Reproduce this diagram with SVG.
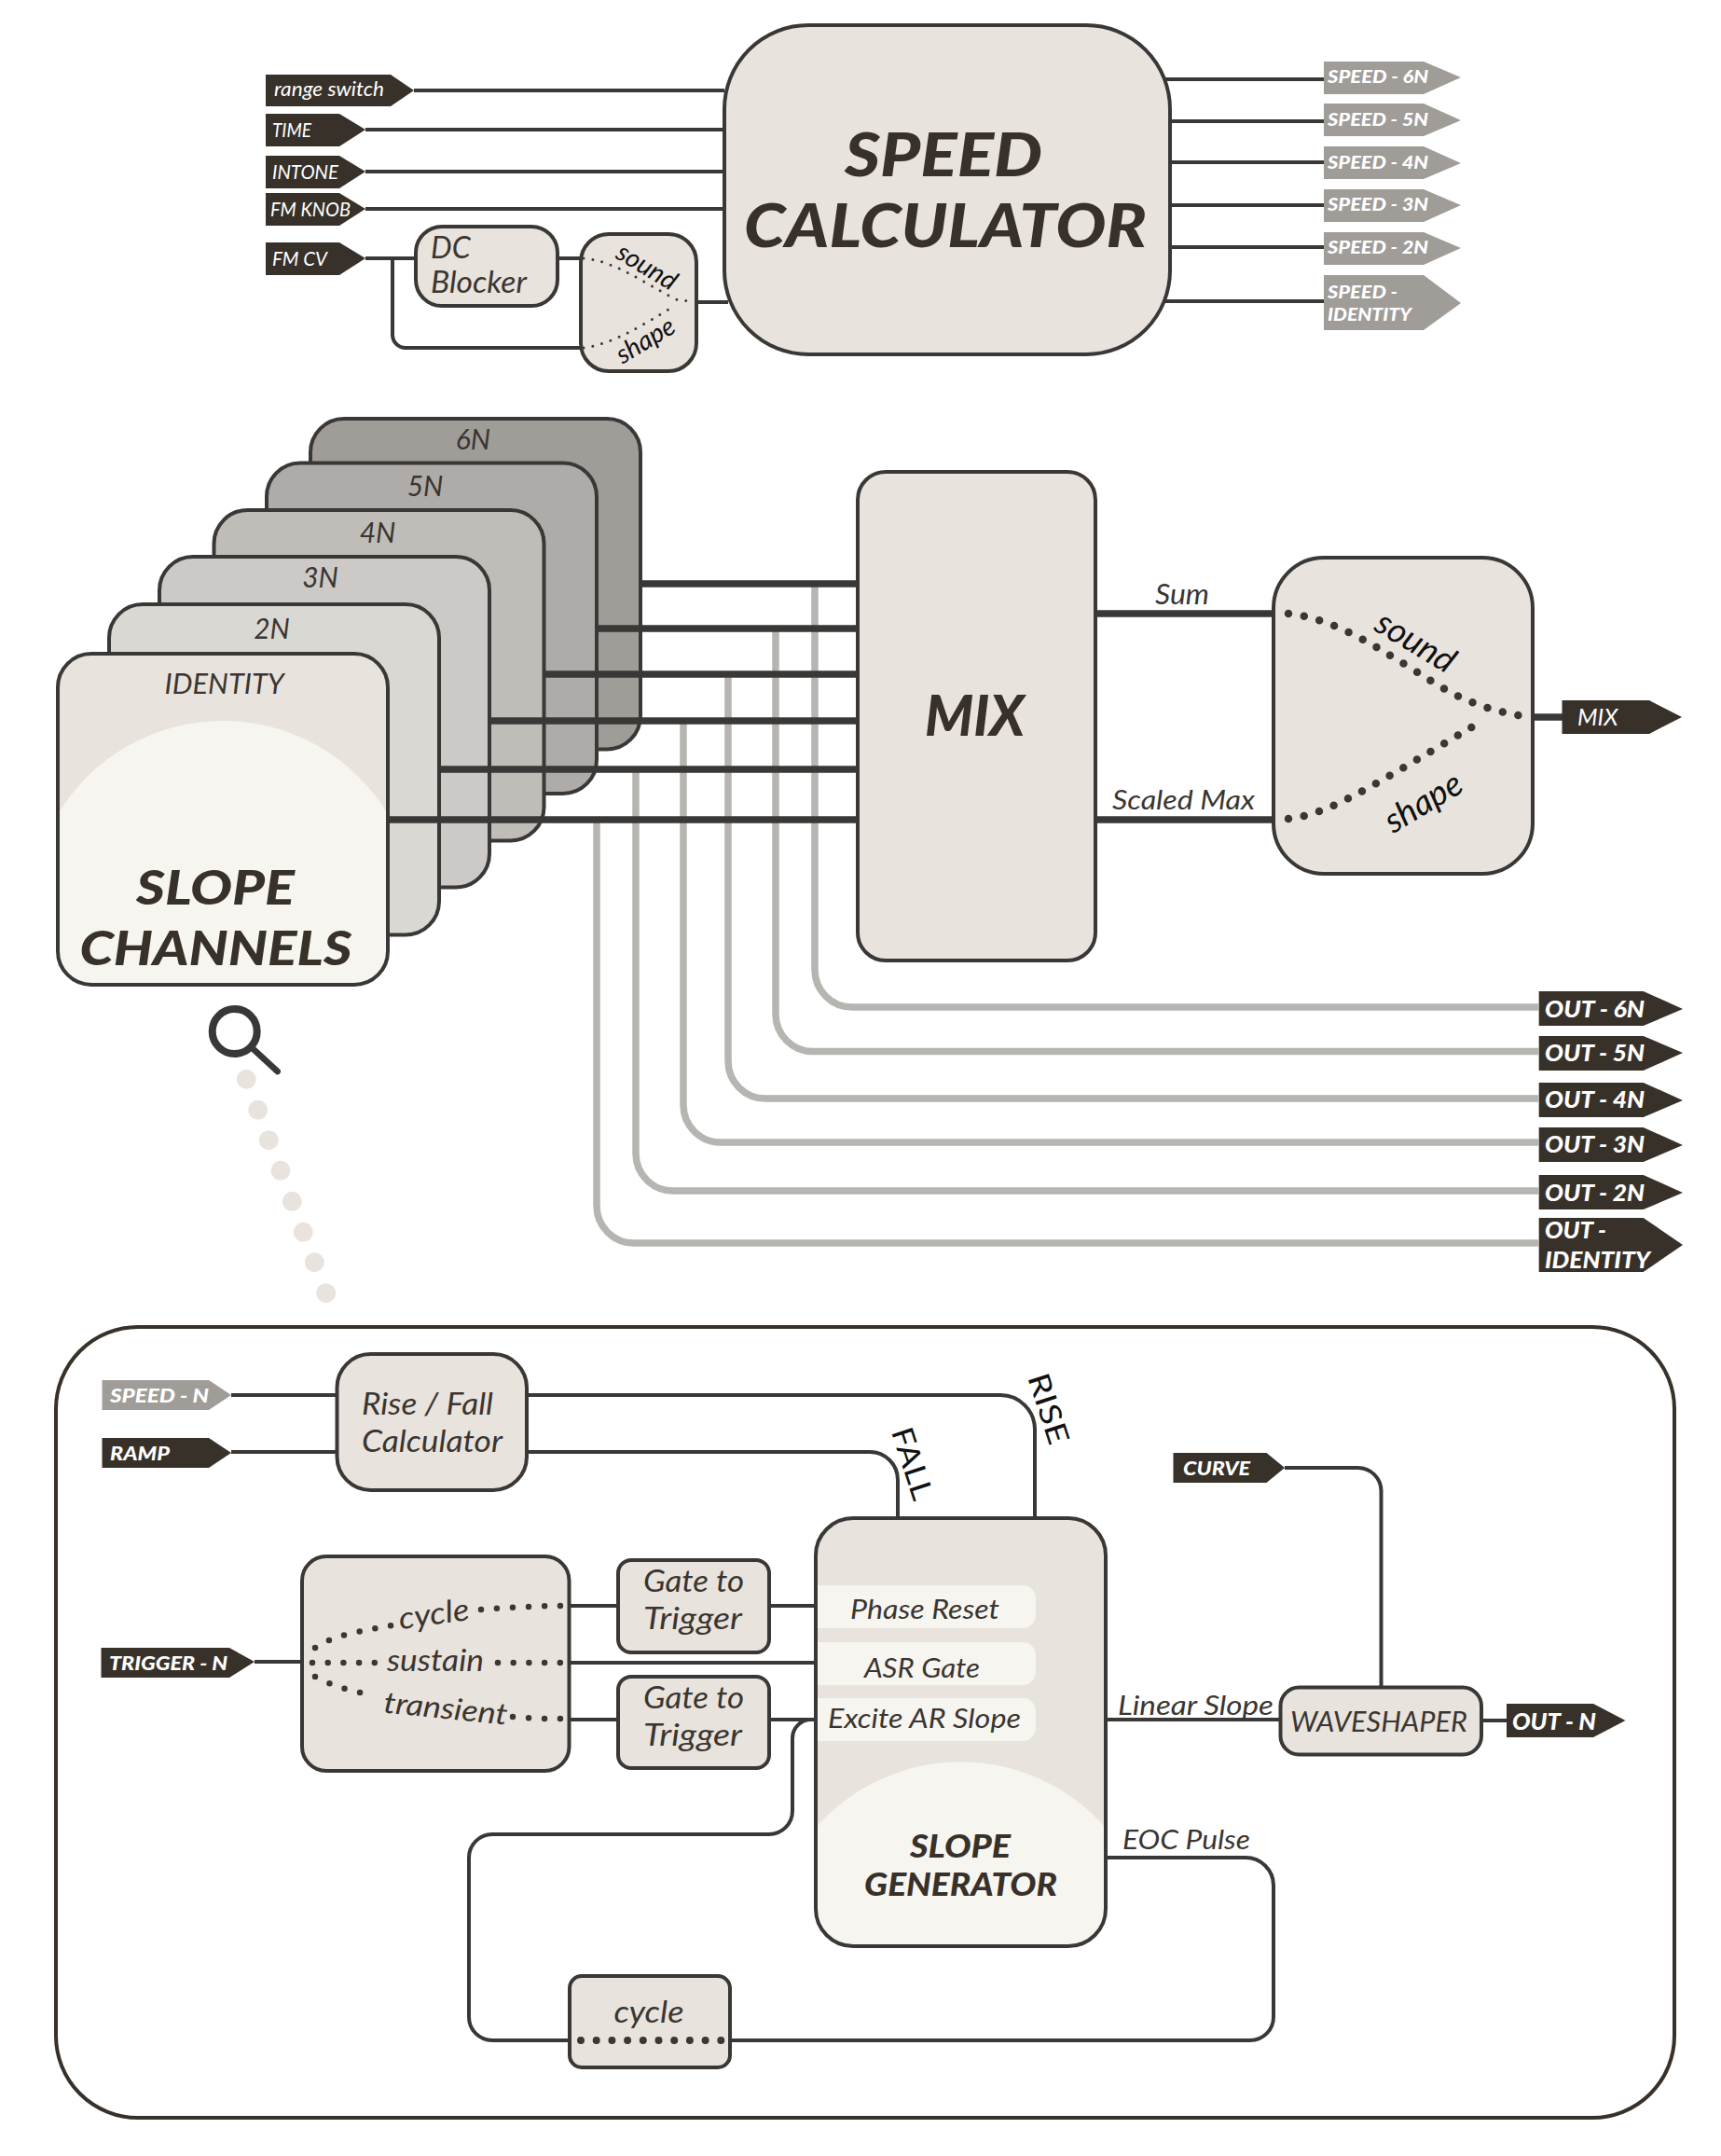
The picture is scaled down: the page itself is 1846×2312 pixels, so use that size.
<svg xmlns="http://www.w3.org/2000/svg" width="1846" height="2312" viewBox="0 0 1846 2312">
<style>
text{font-family:"Lato","Liberation Sans",sans-serif;font-style:italic;fill:#3a3530}
.box{fill:#e9e3dd;stroke:#3a3836;stroke-width:4}
.ch{stroke:#3a3836;stroke-width:4}
.td{fill:#38312a}.tg{fill:#a09c98}
.tt{fill:#fff;font-weight:900}
.tn{fill:#fff;font-weight:400}
.h{font-weight:900;fill:#38312a}
.c{fill:none;stroke:#3a3836;stroke-width:4}
.k{fill:none;stroke:#3a3836;stroke-width:7.5}
.g{fill:none;stroke:#b6b5b2;stroke-width:7.5}
.d{fill:none;stroke:#3a3836;stroke-linecap:round}
.pill{fill:#f7f5f0}
.lt{fill:#f7f5f0}
.m{text-anchor:middle}
</style>
<g id="speed-calculator">
<rect class="box" x="777" y="27" width="478" height="353" rx="90" ry="90"/>
<text class="h" x="906" y="189" font-size="64" textLength="212" lengthAdjust="spacingAndGlyphs">SPEED</text>
<text class="h" x="798" y="265" font-size="64" textLength="432" lengthAdjust="spacingAndGlyphs">CALCULATOR</text>
</g>
<g id="in-range"><polygon class="td" points="285,80 419,80 444,97 419,114 285,114"/><text class="tn" x="294" y="103" font-size="21" textLength="118" lengthAdjust="spacingAndGlyphs">range switch</text></g>
<g id="in-time"><polygon class="td" points="285,122 364,122 392,139 364,157 285,157"/><text class="tn" x="292" y="147" font-size="21" textLength="42" lengthAdjust="spacingAndGlyphs">TIME</text></g>
<g id="in-intone"><polygon class="td" points="285,167 364,167 392,184 364,202 285,202"/><text class="tn" x="292" y="192" font-size="21" textLength="71" lengthAdjust="spacingAndGlyphs">INTONE</text></g>
<g id="in-fmknob"><polygon class="td" points="285,207 364,207 392,224 364,242 285,242"/><text class="tn" x="290" y="232" font-size="21" textLength="86" lengthAdjust="spacingAndGlyphs">FM KNOB</text></g>
<g id="in-fmcv"><polygon class="td" points="285,260 364,260 392,277 364,295 285,295"/><text class="tn" x="292" y="285" font-size="21" textLength="59" lengthAdjust="spacingAndGlyphs">FM CV</text></g>
<g id="dc-blocker">
<rect class="box" x="446" y="243" width="152" height="85" rx="28"/>
<text x="462" y="277" font-size="32">DC</text>
<text x="462" y="314" font-size="32" textLength="103" lengthAdjust="spacingAndGlyphs">Blocker</text>
</g>
<g id="fm-mix">
<rect class="box" x="623" y="251" width="124" height="147" rx="30"/>
<path class="d" stroke-width="3" stroke-dasharray="0 10" d="M626,277 C660,280 690,303 725,321 L745,324"/>
<path class="d" stroke-width="3" stroke-dasharray="0 10" d="M626,373 C660,368 690,348 725,327"/>
<text class="m" transform="translate(689,294) rotate(31)" font-size="28" style="fill:#111">sound</text>
<text class="m" transform="translate(697,373) rotate(-31)" font-size="28" style="fill:#111">shape</text>
</g>
<g id="out-speed-6n"><polygon class="tg" points="1420,66 1527,66 1567,83 1527,101 1420,101"/><text class="tt" x="1424" y="89" font-size="19" textLength="108" lengthAdjust="spacingAndGlyphs">SPEED - 6N</text></g>
<g id="out-speed-5n"><polygon class="tg" points="1420,111 1527,111 1567,129 1527,146 1420,146"/><text class="tt" x="1424" y="135" font-size="19" textLength="108" lengthAdjust="spacingAndGlyphs">SPEED - 5N</text></g>
<g id="out-speed-4n"><polygon class="tg" points="1420,157 1527,157 1567,175 1527,192 1420,192"/><text class="tt" x="1424" y="181" font-size="19" textLength="108" lengthAdjust="spacingAndGlyphs">SPEED - 4N</text></g>
<g id="out-speed-3n"><polygon class="tg" points="1420,203 1527,203 1567,220 1527,238 1420,238"/><text class="tt" x="1424" y="226" font-size="19" textLength="108" lengthAdjust="spacingAndGlyphs">SPEED - 3N</text></g>
<g id="out-speed-2n"><polygon class="tg" points="1420,249 1527,249 1567,266 1527,284 1420,284"/><text class="tt" x="1424" y="272" font-size="19" textLength="108" lengthAdjust="spacingAndGlyphs">SPEED - 2N</text></g>
<g id="out-speed-id"><polygon class="tg" points="1420,295 1527,295 1567,325 1527,354 1420,354"/><text class="tt" x="1424" y="320" font-size="19" textLength="75" lengthAdjust="spacingAndGlyphs">SPEED -</text><text class="tt" x="1424" y="344" font-size="19" textLength="90" lengthAdjust="spacingAndGlyphs">IDENTITY</text></g>

<g id="channel-6n"><rect class="ch" x="333" y="449" width="354" height="354.500" rx="36" fill="#a09c98"/><text class="m" x="507.500" y="482" font-size="30">6N</text></g>
<g id="channel-5n"><rect class="ch" x="286" y="496.500" width="354" height="354.500" rx="36" fill="#afaba8"/><text class="m" x="456" y="532" font-size="30">5N</text></g>
<g id="channel-4n"><rect class="ch" x="229.500" y="547" width="354" height="354.500" rx="36" fill="#c0bdb9"/><text class="m" x="405" y="582" font-size="30">4N</text></g>
<g id="channel-3n"><rect class="ch" x="171" y="597" width="354" height="354.500" rx="36" fill="#ccc9c6"/><text class="m" x="343.500" y="630" font-size="30">3N</text></g>
<g id="channel-2n"><rect class="ch" x="117" y="648" width="354" height="354.500" rx="36" fill="#dad8d2"/><text class="m" x="291.500" y="685" font-size="30">2N</text></g>
<g id="channel-identity">
<rect x="62" y="701" width="354" height="355" rx="36" fill="#e9e3dd"/>
<path class="lt" d="M62,873 A206.600,206.600 0 0 1 416,873 L416,1020 A36,36 0 0 1 380,1056 L98,1056 A36,36 0 0 1 62,1020 Z"/>
<rect x="62" y="701" width="354" height="355" rx="36" fill="none" stroke="#3a3836" stroke-width="4"/>
<text x="176.600" y="744" font-size="30" textLength="128" lengthAdjust="spacingAndGlyphs">IDENTITY</text>
<text class="h" x="146" y="970" font-size="52" textLength="170" lengthAdjust="spacingAndGlyphs">SLOPE</text>
<text class="h" x="85.500" y="1035" font-size="52" textLength="292" lengthAdjust="spacingAndGlyphs">CHANNELS</text>
</g>
<g id="mix">
<rect class="box" x="920" y="506" width="255" height="524" rx="30"/>
<text class="h" x="992" y="789" font-size="60" textLength="107" lengthAdjust="spacingAndGlyphs">MIX</text>
</g>
<g id="mix-crossfade">
<rect class="box" x="1366" y="598" width="278" height="339" rx="54"/>
<path class="d" stroke-width="8.500" stroke-dasharray="0 17" d="M1382,658 C1425,663 1460,683 1519,720 C1550,740 1580,760 1640,769"/>
<path class="d" stroke-width="8.500" stroke-dasharray="0 17" d="M1382,878 C1425,873 1460,850 1590,773"/>
<text class="m" transform="translate(1512,699) rotate(31)" font-size="37" style="fill:#111">sound</text>
<text class="m" transform="translate(1533,871) rotate(-31)" font-size="37" style="fill:#111">shape</text>
</g>
<g id="out-mix"><polygon class="td" points="1675.500,751 1769,751 1804,769 1769,787 1675.500,787"/><text class="tn" x="1692" y="778" font-size="25">MIX</text></g>
<g id="out-6n"><polygon class="td" points="1650.700,1063 1762.700,1063 1805,1082 1762.700,1100 1650.700,1100"/><text class="tt" x="1657" y="1091" font-size="24" textLength="107" lengthAdjust="spacingAndGlyphs">OUT - 6N</text></g>
<g id="out-5n"><polygon class="td" points="1650.700,1111 1762.700,1111 1805,1129 1762.700,1148 1650.700,1148"/><text class="tt" x="1657" y="1138" font-size="24" textLength="107" lengthAdjust="spacingAndGlyphs">OUT - 5N</text></g>
<g id="out-4n"><polygon class="td" points="1650.700,1161 1762.700,1161 1805,1180 1762.700,1198 1650.700,1198"/><text class="tt" x="1657" y="1188" font-size="24" textLength="107" lengthAdjust="spacingAndGlyphs">OUT - 4N</text></g>
<g id="out-3n"><polygon class="td" points="1650.700,1209 1762.700,1209 1805,1228 1762.700,1246 1650.700,1246"/><text class="tt" x="1657" y="1236" font-size="24" textLength="107" lengthAdjust="spacingAndGlyphs">OUT - 3N</text></g>
<g id="out-2n"><polygon class="td" points="1650.700,1260 1762.700,1260 1805,1279 1762.700,1297 1650.700,1297"/><text class="tt" x="1657" y="1288" font-size="24" textLength="107" lengthAdjust="spacingAndGlyphs">OUT - 2N</text></g>
<g id="out-id"><polygon class="td" points="1650.700,1306 1762.700,1306 1805,1335 1762.700,1364 1650.700,1364"/><text class="tt" x="1657" y="1328" font-size="24" textLength="66" lengthAdjust="spacingAndGlyphs">OUT -</text><text class="tt" x="1657" y="1360" font-size="24" textLength="113" lengthAdjust="spacingAndGlyphs">IDENTITY</text></g>

<g id="magnifier">
<circle cx="251.700" cy="1106" r="24" fill="none" stroke="#3a3836" stroke-width="8"/>
<line x1="271.700" y1="1125" x2="297.700" y2="1149" stroke="#3a3836" stroke-width="6.500" stroke-linecap="round"/>
<g fill="#e9e3dd">
<circle cx="264.300" cy="1157.300" r="10.500"/><circle cx="276.700" cy="1190.300" r="10.500"/><circle cx="288.300" cy="1222.700" r="10.500"/><circle cx="301" cy="1255.300" r="10.500"/><circle cx="313.300" cy="1288.300" r="10.500"/><circle cx="325.300" cy="1321.300" r="10.500"/><circle cx="337.300" cy="1353.700" r="10.500"/><circle cx="349.700" cy="1386.700" r="10.500"/>
</g>
</g>

<rect id="detail-panel" x="60" y="1423" width="1736" height="848" rx="88" fill="#fff" stroke="#38312a" stroke-width="4"/>
<g id="in-speed-n"><polygon class="tg" points="109.500,1480 224,1480 248,1496 224,1512 109.500,1512"/><text class="tt" x="118" y="1504" font-size="21" textLength="106" lengthAdjust="spacingAndGlyphs">SPEED - N</text></g>
<g id="in-ramp"><polygon class="td" points="109.500,1542 224,1542 248,1558 224,1574 109.500,1574"/><text class="tt" x="118" y="1566" font-size="21" textLength="64" lengthAdjust="spacingAndGlyphs">RAMP</text></g>
<g id="in-trigger"><polygon class="td" points="108.500,1767 246,1767 273,1782 246,1799 108.500,1799"/><text class="tt" x="117" y="1790.500" font-size="21" textLength="127" lengthAdjust="spacingAndGlyphs">TRIGGER - N</text></g>
<g id="rise-fall">
<rect class="box" x="361.500" y="1452" width="203.500" height="146" rx="36"/>
<text x="388" y="1517" font-size="32" textLength="141" lengthAdjust="spacingAndGlyphs">Rise / Fall</text>
<text x="388" y="1557" font-size="32" textLength="151" lengthAdjust="spacingAndGlyphs">Calculator</text>
</g>
<g id="mode-switch">
<rect class="box" x="324" y="1669" width="286.500" height="230" rx="26"/>
<path class="d" stroke-width="6.500" stroke-dasharray="0 17" d="M338,1767 C360,1752 395,1748 420,1743"/>
<path class="d" stroke-width="6.500" stroke-dasharray="0 17" d="M516,1726 C545,1724 575,1722 603,1722"/>
<path class="d" stroke-width="6.500" stroke-dasharray="0 16.700" d="M335,1783 L402,1783"/>
<path class="d" stroke-width="6.500" stroke-dasharray="0 16.700" d="M534,1783 L601,1783"/>
<path class="d" stroke-width="6.500" stroke-dasharray="0 17" d="M338,1798 C360,1810 385,1815 402,1818"/>
<path class="d" stroke-width="6.500" stroke-dasharray="0 17" d="M550,1841 C570,1843 585,1843 601,1843"/>
<text class="m" transform="translate(467,1742) rotate(-8)" font-size="33" textLength="76" lengthAdjust="spacingAndGlyphs">cycle</text>
<text x="415" y="1792" font-size="32" textLength="104" lengthAdjust="spacingAndGlyphs">sustain</text>
<text class="m" transform="translate(477,1843) rotate(5.700)" font-size="32" textLength="133" lengthAdjust="spacingAndGlyphs">transient</text>
</g>
<g id="gate-1"><rect class="box" x="663" y="1673" width="162" height="99" rx="14"/><text x="690" y="1707" font-size="32" textLength="108" lengthAdjust="spacingAndGlyphs">Gate to</text><text x="690" y="1747" font-size="32" textLength="106" lengthAdjust="spacingAndGlyphs">Trigger</text></g>
<g id="gate-2"><rect class="box" x="663" y="1798" width="162" height="98" rx="14"/><text x="690" y="1832" font-size="32" textLength="108" lengthAdjust="spacingAndGlyphs">Gate to</text><text x="690" y="1872" font-size="32" textLength="106" lengthAdjust="spacingAndGlyphs">Trigger</text></g>
<g id="slope-generator">
<rect x="875" y="1628" width="311" height="459" rx="40" fill="#e9e3dd"/>
<path class="lt" d="M875,1960 A206.600,206.600 0 0 1 1186,1960 L1186,2047 A40,40 0 0 1 1146,2087 L915,2087 A40,40 0 0 1 875,2047 Z"/>
<path class="pill" d="M877,1700 H1097 A14,14 0 0 1 1111,1714 V1732 A14,14 0 0 1 1097,1746 H877 Z"/>
<path class="pill" d="M877,1761 H1097 A14,14 0 0 1 1111,1775 V1793 A14,14 0 0 1 1097,1807 H877 Z"/>
<path class="pill" d="M877,1821 H1097 A14,14 0 0 1 1111,1835 V1853 A14,14 0 0 1 1097,1867 H877 Z"/>
<rect x="875" y="1628" width="311" height="459" rx="40" fill="none" stroke="#3a3836" stroke-width="4"/>
<text x="912" y="1736" font-size="29" textLength="160" lengthAdjust="spacingAndGlyphs">Phase Reset</text>
<text x="927" y="1799" font-size="29" textLength="124" lengthAdjust="spacingAndGlyphs">ASR Gate</text>
<text x="888" y="1853" font-size="29" textLength="207" lengthAdjust="spacingAndGlyphs">Excite AR Slope</text>
<text class="h" x="976" y="1992" font-size="35" textLength="108" lengthAdjust="spacingAndGlyphs">SLOPE</text>
<text class="h" x="927" y="2033" font-size="35" textLength="207" lengthAdjust="spacingAndGlyphs">GENERATOR</text>
</g>
<g id="waveshaper"><rect class="box" x="1373.500" y="1809.500" width="215.500" height="72" rx="20"/><text x="1384" y="1857" font-size="31" textLength="190" lengthAdjust="spacingAndGlyphs">WAVESHAPER</text></g>
<g id="in-curve"><polygon class="td" points="1258.500,1558 1358.500,1558 1378,1574 1358.500,1590 1258.500,1590"/><text class="tt" x="1269" y="1582" font-size="21" textLength="72" lengthAdjust="spacingAndGlyphs">CURVE</text></g>
<g id="out-n"><polygon class="td" points="1616,1827 1709,1827 1743.500,1845 1709,1863 1616,1863"/><text class="tt" x="1622" y="1855" font-size="24" textLength="90" lengthAdjust="spacingAndGlyphs">OUT - N</text></g>
<g id="cycle-switch">
<rect class="box" x="611" y="2119" width="172" height="98" rx="13"/>
<text class="m" x="696" y="2169" font-size="33" textLength="75" lengthAdjust="spacingAndGlyphs">cycle</text>
<path class="d" stroke-width="8" stroke-dasharray="0 16.700" d="M623,2188 H774"/>
</g>

<g id="connectors">
<path class="c" d="M444,97 H777 M392,139 H777 M392,184 H777 M392,224 H777 M392,277 H446 M598,277 H623 M421,277 V359 A14,14 0 0 0 435,373 H623 M747,324 H781"/>
<path class="c" d="M1250,85 H1420 M1255,130 H1420 M1255,174 H1420 M1255,220 H1420 M1255,265 H1420 M1250,323 H1420"/>
<path class="g" d="M874,626 V1040 A40,40 0 0 0 914,1080 H1651"/>
<path class="g" d="M832,674 V1087.500 A40,40 0 0 0 872,1127.500 H1651"/>
<path class="g" d="M781,723 V1138 A40,40 0 0 0 821,1178 H1651"/>
<path class="g" d="M733,773 V1185 A40,40 0 0 0 773,1225 H1651"/>
<path class="g" d="M682,825 V1237 A40,40 0 0 0 722,1277 H1651"/>
<path class="g" d="M640,879 V1293 A40,40 0 0 0 680,1333 H1651"/>
<path class="k" d="M687,626 H920 M640,674 H920 M583,723 H920 M525,773 H920 M471.500,825 H920 M416,879 H920"/>
<path class="k" d="M1175,658 H1366 M1175,879 H1366 M1644,769 H1676"/>
<path class="c" d="M248,1496 H361.500 M248,1557 H361.500 M273,1782 H324"/>
<path class="c" d="M565,1496 H1073 A37,37 0 0 1 1110,1533 V1628 M565,1557 H933 A30,30 0 0 1 963,1587 V1628"/>
<path class="c" d="M610.500,1722 H663 M825,1722 H875 M610.500,1783 H875 M610.500,1844 H663 M825,1844 H875"/>
<path class="c" d="M875,1844 H870 A20,20 0 0 0 850,1864 V1942 A25,25 0 0 1 825,1967 H528 A25,25 0 0 0 503,1992 V2163 A25,25 0 0 0 528,2188 H611"/>
<path class="c" d="M783,2188 H1341 A25,25 0 0 0 1366,2163 V2022 A30,30 0 0 0 1336,1992 H1186"/>
<path class="c" d="M1186,1844 H1373.500 M1378,1574 H1456 A25,25 0 0 1 1481.500,1599 V1809.500 M1589,1845 H1616"/>
</g>
<g id="connector-labels">
<text class="m" x="1268" y="648" font-size="31" textLength="58" lengthAdjust="spacingAndGlyphs">Sum</text>
<text x="1193" y="868" font-size="29" textLength="153" lengthAdjust="spacingAndGlyphs">Scaled Max</text>
<text x="1199" y="1839" font-size="29" textLength="167" lengthAdjust="spacingAndGlyphs">Linear Slope</text>
<text x="1204" y="1983" font-size="29" textLength="137" lengthAdjust="spacingAndGlyphs">EOC Pulse</text>
<text class="m" transform="translate(1114,1514) rotate(72)" font-size="32" textLength="78" lengthAdjust="spacingAndGlyphs" style="fill:#111;font-style:normal">RISE</text>
<text class="m" transform="translate(968,1573) rotate(72)" font-size="32" textLength="80" lengthAdjust="spacingAndGlyphs" style="fill:#111;font-style:normal">FALL</text>
</g>
</svg>
